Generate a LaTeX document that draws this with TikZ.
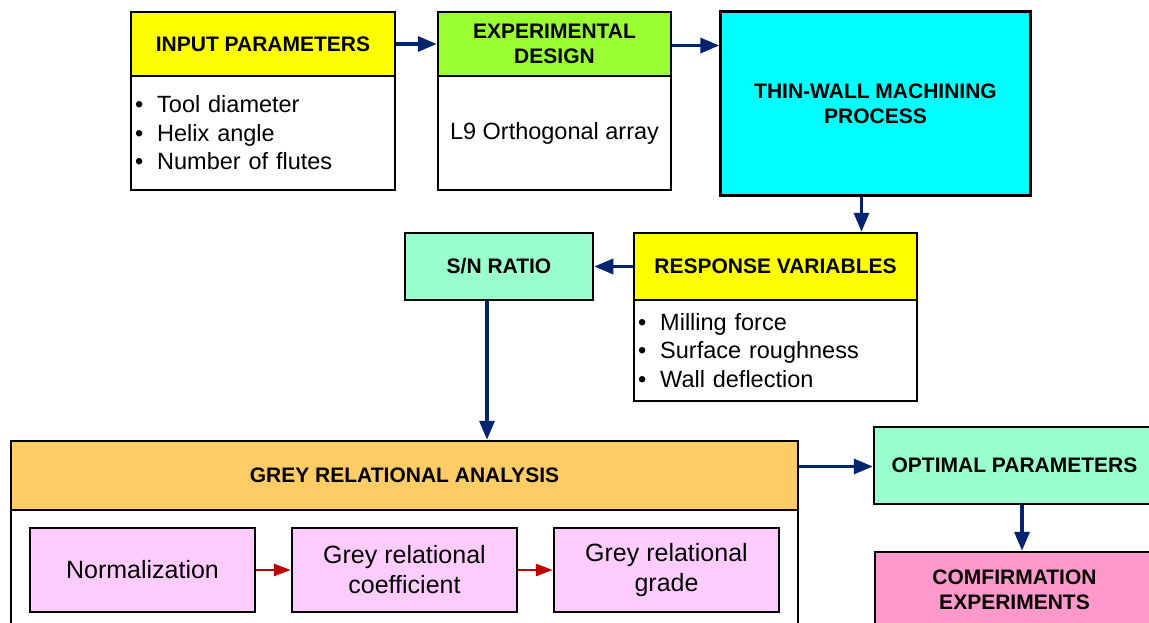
\documentclass[tikz,border=0pt]{standalone}
\usepackage{fontspec}
\setmainfont{Liberation Sans}
\usetikzlibrary{arrows.meta}

\definecolor{arrowblue}{RGB}{0,36,110}
\definecolor{arrowred}{RGB}{192,0,0}
\definecolor{hdryellow}{RGB}{255,255,0}
\definecolor{hdrgreen}{RGB}{153,255,51}
\definecolor{hdrcyan}{RGB}{0,255,255}
\definecolor{hdrmint}{RGB}{153,255,204}
\definecolor{hdrorange}{RGB}{255,204,102}
\definecolor{steplilac}{RGB}{255,204,255}
\definecolor{hdrpink}{RGB}{255,153,204}

\newcommand\hdrfont{\fontsize{21}{24.6}\selectfont\bfseries}
\newcommand\bodyfont{\fontsize{23.5}{28.5}\selectfont}
\newcommand\stepfont{\fontsize{25}{30}\selectfont}
\newcommand\itm{\textbullet\hspace{14pt}}

\tikzset{
  box/.style={draw=black, line width=2.5pt, inner sep=0pt, align=center},
  hdrbox/.style={box, font=\hdrfont},
  bodybox/.style={box, fill=white, font=\bodyfont},
  listbox/.style={bodybox, align=left, inner xsep=4pt},
  stepbox/.style={box, fill=steplilac, font=\stepfont},
  flow/.style={draw=arrowblue, line width=3.5pt,
               -{Triangle[length=19pt,width=15pt]}},
  subflow/.style={draw=arrowred, line width=2.8pt,
                  -{Triangle[length=17pt,width=12pt]}},
}

\begin{document}
\begin{tikzpicture}[x=1pt, y=-1pt]
\clip (0,0) rectangle (1149,623);
\fill[white] (0,0) rectangle (1149,623);

% input parameters
\node[listbox, minimum width=264, minimum height=114, text width=256,
      anchor=center] (inpb) at (263,133)
  {\itm Tool diameter\\ \itm Helix angle\\ \itm Number of flutes};
\node[hdrbox, fill=hdryellow, minimum width=264, minimum height=64] (inph) at (263,44) {INPUT PARAMETERS};

% experimental design
\node[bodybox, minimum width=233, minimum height=114] (expb) at (554.5,133) {L9 Orthogonal array};
\node[hdrbox, fill=hdrgreen, minimum width=233, minimum height=64] (exph) at (554.5,44) {EXPERIMENTAL\\DESIGN};

% machining process
\node[hdrbox, fill=hdrcyan, minimum width=310, minimum height=184] (thin) at (875.5,103.5) {THIN-WALL MACHINING\\PROCESS};

% response variables
\node[listbox, minimum width=283, minimum height=101, text width=275] (respb) at (775.5,350.5)
  {\itm Milling force\\ \itm Surface roughness\\ \itm Wall deflection};
\node[hdrbox, fill=hdryellow, minimum width=283, minimum height=67] (resph) at (775.5,266.5) {RESPONSE VARIABLES};

% signal to noise ratio
\node[hdrbox, fill=hdrmint, minimum width=188, minimum height=67] (sn) at (499,266.5) {S/N RATIO};

% grey relational analysis
\node[bodybox, minimum width=787, minimum height=130] (grab) at (404.5,575) {};
\node[hdrbox, fill=hdrorange, minimum width=787, minimum height=69] (grah) at (404.5,475.5) {GREY RELATIONAL ANALYSIS};
\node[stepbox, minimum width=225, minimum height=84] (n1) at (142.5,570) {Normalization};
\node[stepbox, minimum width=225, minimum height=84] (n2) at (404.5,570) {Grey relational\\coefficient};
\node[stepbox, minimum width=225, minimum height=84] (n3) at (666.5,570) {Grey relational\\grade};

% optimum and confirmation
\node[hdrbox, fill=hdrmint, minimum width=281, minimum height=77] (opt) at (1014.5,465.5) {OPTIMAL PARAMETERS};
\node[hdrbox, fill=hdrpink, minimum width=280, minimum height=88] (conf) at (1015,596) {};
\node[font=\hdrfont, align=center] (conft) at (1014.5,590) {COMFIRMATION\\EXPERIMENTS};

% connector guides
\coordinate (xdown) at (861.5,0);
\coordinate (xsn) at (487,0);
\coordinate (xopt) at (1022,0);
\coordinate (ythin) at (0,45.5);
\coordinate (ygra) at (0,466.5);

% connectors
\draw[flow] (inph.east) -- (exph.west);
\draw[flow] (exph.east |- ythin) -- (thin.west |- ythin);
\draw[flow] (thin.south -| xdown) -- (resph.north -| xdown);
\draw[flow] (resph.west) -- (sn.east);
\draw[flow] (sn.south -| xsn) -- (grah.north -| xsn);
\draw[flow] (grah.east |- ygra) -- (opt.west |- ygra);
\draw[flow] (opt.south -| xopt) -- (conf.north -| xopt);
\draw[subflow] (n1.east) -- (n2.west);
\draw[subflow] (n2.east) -- (n3.west);
\end{tikzpicture}
\end{document}
